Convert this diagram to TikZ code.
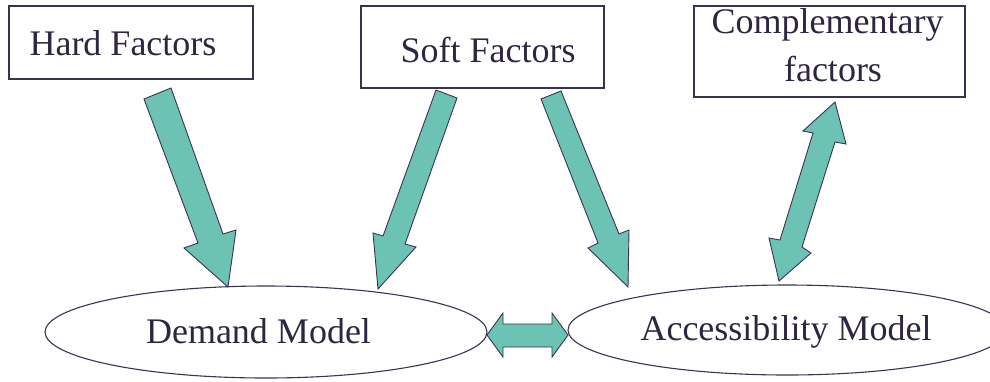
\documentclass[tikz,border=0pt]{standalone}
\usepackage{fontspec}
\setmainfont{Liberation Serif}
\usetikzlibrary{shapes.geometric}
\definecolor{ink}{HTML}{2E2540}
\definecolor{edge}{HTML}{3A3350}
\definecolor{teal}{HTML}{6CC3B4}
\tikzset{
  box/.style={draw=edge, line width=1.1pt, rectangle, inner sep=0pt},
  oval/.style={draw=edge, line width=1.1pt, ellipse, inner sep=0pt},
  lbl/.style={text=ink, font=\fontsize{36}{40}\selectfont, inner sep=0pt, anchor=base},
  blockarrow/.style={fill=teal, draw=edge, line width=0.9pt, line join=miter}
}
\begin{document}
\begin{tikzpicture}[x=1pt,y=-1pt]
\useasboundingbox (0,0) rectangle (990,381);
\clip (0,0) rectangle (990,381);
% boxes
\node[box, minimum width=244pt, minimum height=73pt] (hard) at (131,42.5) {};
\node[box, minimum width=243pt, minimum height=82pt] (soft) at (482.5,47) {};
\node[box, minimum width=271pt, minimum height=91pt] (comp) at (829.5,51.5) {};
\node[lbl] (hardt) at (123,55) {Hard Factors};
\node[lbl] (softt) at (488,62) {Soft Factors};
\node[lbl] (compt1) at (827.5,33) {Complementary};
\node[lbl] (compt2) at (833,81) {factors};
% ellipses
\node[oval, minimum width=442pt, minimum height=92pt] (demand) at (266,332) {};
\node[oval, minimum width=438pt, minimum height=90pt] (access) at (787,330) {};
\node[lbl] (demandt) at (258.5,343) {Demand Model};
\node[lbl] (accesst) at (786,340) {Accessibility Model};
% block arrows
\draw[blockarrow] (144,99) -- (171,88) -- (223,234) -- (236,230) -- (228,287) -- (184,248) -- (198,243) -- cycle;
\draw[blockarrow] (436,90) -- (457,98) -- (405,244) -- (416,247) -- (378,289) -- (373,233) -- (383,236) -- cycle;
\draw[blockarrow] (541,99) -- (561,91) -- (619,234) -- (629,230) -- (628,287) -- (588,248) -- (598,243) -- cycle;
\draw[blockarrow] (835,102) -- (846,144) -- (835,142) -- (802,247) -- (811,253) -- (779,281) -- (769,238) -- (780,240) -- (813,133) -- (803,131) -- cycle;
\draw[blockarrow] (487,335) -- (503,313) -- (503,324) -- (552,324) -- (552,313) -- (568,335) -- (552,357) -- (552,347) -- (503,347) -- (503,357) -- cycle;
\end{tikzpicture}
\end{document}
